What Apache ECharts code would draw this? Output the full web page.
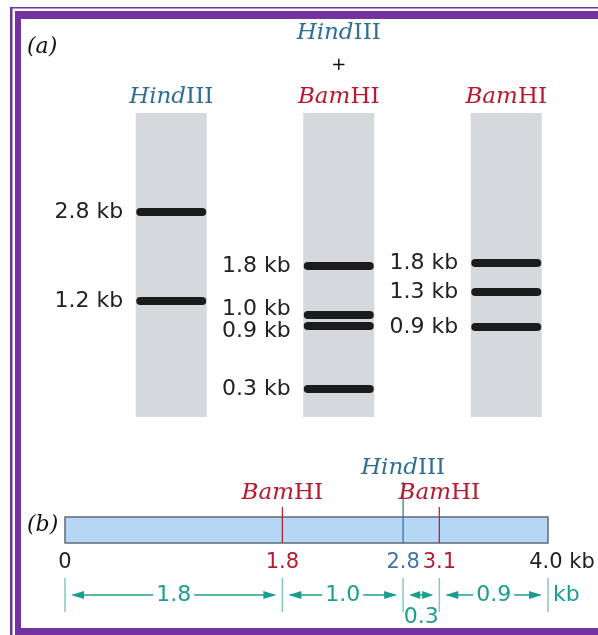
<!DOCTYPE html>
<html><head><meta charset="utf-8">
<script src="https://cdn.jsdelivr.net/npm/echarts@6/dist/echarts.min.js"></script>
<style>html,body{margin:0;padding:0;background:#fff}#c{width:598px;height:635px}</style>
</head><body><div id="c"></div>
<script>
// ---------- data ----------
const lanes = ['HindIII', 'HindIII + BamHI', 'BamHI'];
const laneLength = [304, 304, 304];                    // gel lane length (migration units)
const bandLane = [0, 0, 1, 1, 1, 1, 2, 2, 2];
const bandSizeKb = [2.8, 1.2, 1.8, 1.0, 0.9, 0.3, 1.8, 1.3, 0.9];
const bandMigration = [99, 188, 153, 202, 213, 276, 150, 179, 214];
const mapLengthKb = 4.0;
const siteKb = [1.8, 2.8, 3.1];
const siteEnzyme = ['BamHI', 'HindIII', 'BamHI'];

// ---------- styles ----------
const PURPLE = '#7232a0';
const TEAL_BLUE = '#2f6f93';
const RED = '#b8192f';
const DIM = '#1c9e8f';
const DIM_TICK = '#82c9c0';
const SANS = 'DejaVu Sans';
const SERIF = 'DejaVu Serif';
const enzymeColor = { HindIII: TEAL_BLUE, BamHI: RED };
const enzymeRise = { HindIII: 35, BamHI: 10 };

// spread band labels within each lane so they do not overlap
const labelPos = bandMigration.slice();
const MIN_GAP = 22;
for (let it = 0; it < 20; it++) {
  for (let l = 0; l < lanes.length; l++) {
    const idx = bandLane.map((v, i) => v === l ? i : -1).filter(i => i >= 0)
      .sort((a, b) => labelPos[a] - labelPos[b]);
    for (let k = 1; k < idx.length; k++) {
      const a = idx[k - 1], b = idx[k];
      const d = labelPos[b] - labelPos[a];
      if (d < MIN_GAP) { const s = (MIN_GAP - d) / 2; labelPos[a] -= s; labelPos[b] += s; }
    }
  }
}
const bandData = bandSizeKb.map((s, i) => [bandLane[i], bandMigration[i], s, labelPos[i]]);

const boundaries = [0].concat(siteKb, [mapLengthKb]);
const fragData = boundaries.slice(1).map((e, i) => [boundaries[i], e, i]);

const enzymeRich = n => n === 'HindIII' ? '{hi|Hind}{hu|III}' : '{bi|Bam}{bu|HI}';
const richBase = { fontFamily: SERIF, fontSize: 23, lineHeight: 32 };
const mapLab = { fontFamily: SANS, fontSize: 21, lineHeight: 22 };

const chart = echarts.init(document.getElementById('c'), null, { renderer: 'canvas' });
chart.setOption({
  animation: false,
  backgroundColor: '#fff',
  title: [
    { text: '(a)', left: 22, top: 31, textStyle: { fontFamily: SERIF, fontStyle: 'italic', fontWeight: 'normal', fontSize: 22, color: '#111' } },
    { text: '(b)', left: 22, top: 509, textStyle: { fontFamily: SERIF, fontStyle: 'italic', fontWeight: 'normal', fontSize: 22, color: '#111' } }
  ],
  graphic: [
    { type: 'rect', shape: { x: 10, y: 7, width: 588, height: 1.6 }, style: { fill: PURPLE } },
    { type: 'rect', shape: { x: 10, y: 7, width: 2.5, height: 628 }, style: { fill: PURPLE } },
    { type: 'rect', shape: { x: 15, y: 11, width: 583, height: 8 }, style: { fill: PURPLE } },
    { type: 'rect', shape: { x: 15, y: 11, width: 6, height: 624 }, style: { fill: PURPLE } },
    { type: 'rect', shape: { x: 15, y: 628, width: 583, height: 7 }, style: { fill: PURPLE } }
  ],
  grid: [
    { left: 87.5, width: 502.5, top: 113, height: 304, outerBoundsMode: 'none' },
    { left: 65, width: 483, top: 517, height: 26, outerBoundsMode: 'none' },
    { left: 65, width: 483, top: 578, height: 34, outerBoundsMode: 'none' }
  ],
  xAxis: [
    {
      gridIndex: 0, type: 'category', data: lanes, position: 'top',
      axisLine: { show: false }, axisTick: { show: false },
      axisLabel: {
        margin: 0,
        formatter: v => v.split(' + ').map(enzymeRich).join('\n{p|+}\n'),
        rich: {
          hi: Object.assign({}, richBase, { fontStyle: 'italic', color: TEAL_BLUE }),
          hu: Object.assign({}, richBase, { color: TEAL_BLUE }),
          bi: Object.assign({}, richBase, { fontStyle: 'italic', color: RED }),
          bu: Object.assign({}, richBase, { color: RED }),
          p: { fontFamily: SANS, fontSize: 18, lineHeight: 32, color: '#111' }
        }
      }
    },
    {
      gridIndex: 1, type: 'value', min: 0, max: mapLengthKb,
      axisLine: { show: false }, axisTick: { show: false }, splitLine: { show: false },
      axisLabel: {
        customValues: boundaries, margin: 9,
        formatter: v => {
          if (v === 0) return '{k|0}';
          if (v === mapLengthKb) return '{e|' + v.toFixed(1) + ' kb}';
          const e = siteEnzyme[siteKb.indexOf(v)];
          return '{' + (e === 'HindIII' ? 'h' : 'b') + '|' + v.toFixed(1) + '}';
        },
        rich: {
          k: Object.assign({}, mapLab, { color: '#222' }),
          e: Object.assign({}, mapLab, { color: '#222', padding: [0, 0, 0, 28] }),
          h: Object.assign({}, mapLab, { color: '#3f74a6' }),
          b: Object.assign({}, mapLab, { color: RED })
        }
      }
    },
    { gridIndex: 2, type: 'value', min: 0, max: mapLengthKb, show: false }
  ],
  yAxis: [
    { gridIndex: 0, type: 'value', inverse: true, min: 0, max: 304, show: false },
    { gridIndex: 1, type: 'value', min: 0, max: 1, show: false },
    { gridIndex: 2, type: 'value', min: 0, max: 1, show: false }
  ],
  series: [
    {
      type: 'bar', xAxisIndex: 0, yAxisIndex: 0, data: laneLength, barWidth: 71, silent: true, z: 1,
      itemStyle: { color: '#d5d8dc' }
    },
    {
      type: 'custom', xAxisIndex: 0, yAxisIndex: 0, data: bandData, silent: true, z: 5,
      renderItem: (params, api) => {
        const c = api.coord([api.value(0), api.value(1)]);
        const ly = api.coord([api.value(0), api.value(3)])[1];
        return {
          type: 'group', children: [
            { type: 'line', z2: 10, shape: { x1: c[0] - 31, y1: c[1], x2: c[0] + 31, y2: c[1] },
              style: { stroke: '#1c1c1c', lineWidth: 8, lineCap: 'round' } },
            { type: 'text', x: c[0] - 48, y: ly,
              style: { text: api.value(2).toFixed(1) + ' kb', align: 'right', verticalAlign: 'middle',
                fontFamily: SANS, fontSize: 22, fill: '#222' } }
          ]
        };
      }
    },
    {
      type: 'custom', xAxisIndex: 1, yAxisIndex: 1, data: [[0, mapLengthKb]], silent: true,
      renderItem: (params, api) => {
        const a = api.coord([api.value(0), 1]);
        const b = api.coord([api.value(1), 0]);
        return { type: 'rect', shape: { x: a[0], y: a[1], width: b[0] - a[0], height: b[1] - a[1] },
          style: { fill: '#b6d6f6', stroke: '#5f6b76', lineWidth: 1.5 } };
      }
    },
    {
      type: 'custom', xAxisIndex: 1, yAxisIndex: 1, data: siteKb.map((k, i) => [k, i]), silent: true, z: 4,
      renderItem: (params, api) => {
        const e = siteEnzyme[params.dataIndex];
        const bot = api.coord([api.value(0), 0]);
        const top = api.coord([api.value(0), 1]);
        const yt = top[1] - enzymeRise[e];
        return {
          type: 'group', children: [
            { type: 'line', shape: { x1: bot[0], y1: bot[1], x2: bot[0], y2: yt },
              style: { stroke: enzymeColor[e], lineWidth: 1.2 } },
            { type: 'text', x: bot[0], y: yt - 14,
              style: { rich: { i: { fontFamily: SERIF, fontStyle: 'italic', fontSize: 23, fill: enzymeColor[e] },
                               u: { fontFamily: SERIF, fontSize: 23, fill: enzymeColor[e] } },
                text: e === 'HindIII' ? '{i|Hind}{u|III}' : '{i|Bam}{u|HI}',
                align: 'center', verticalAlign: 'middle' } }
          ]
        };
      }
    },
    {
      type: 'custom', xAxisIndex: 2, yAxisIndex: 2, data: boundaries.map(v => [v]), silent: true,
      renderItem: (params, api) => {
        const a = api.coord([api.value(0), 0]);
        const b = api.coord([api.value(0), 1]);
        return { type: 'line', shape: { x1: a[0], y1: a[1], x2: b[0], y2: b[1] },
          style: { stroke: DIM_TICK, lineWidth: 1.5 } };
      }
    },
    {
      type: 'custom', xAxisIndex: 2, yAxisIndex: 2, data: fragData, silent: true,
      renderItem: (params, api) => {
        const s = api.value(0), e = api.value(1);
        const pa = api.coord([s, 0.5]), pb = api.coord([e, 0.5]);
        const xa = pa[0] + 6, xb = pb[0] - 6, y = pa[1];
        const w = xb - xa;
        const L = Math.min(13, w / 2 - 1), H = 4;
        const label = (e - s).toFixed(1);
        const kids = [
          { type: 'line', shape: { x1: xa + 2, y1: y, x2: xb - 2, y2: y }, style: { stroke: DIM, lineWidth: 1.5 } },
          { type: 'polygon', shape: { points: [[xa, y], [xa + L, y - H], [xa + L, y + H]] }, style: { fill: DIM } },
          { type: 'polygon', shape: { points: [[xb, y], [xb - L, y - H], [xb - L, y + H]] }, style: { fill: DIM } }
        ];
        const narrow = w < 60;
        kids.push({ type: 'text', x: (xa + xb) / 2, y: narrow ? y + 22 : y,
          style: { text: label, align: 'center', verticalAlign: 'middle', fontFamily: SANS, fontSize: 22,
            fill: DIM, backgroundColor: narrow ? 'transparent' : '#fff', padding: [0, 3] } });
        if (params.dataIndex === fragData.length - 1) {
          kids.push({ type: 'text', x: pb[0] + 5, y: y,
            style: { text: 'kb', align: 'left', verticalAlign: 'middle', fontFamily: SANS, fontSize: 22, fill: DIM } });
        }
        return { type: 'group', children: kids };
      }
    }
  ]
});
</script>
</body></html>
